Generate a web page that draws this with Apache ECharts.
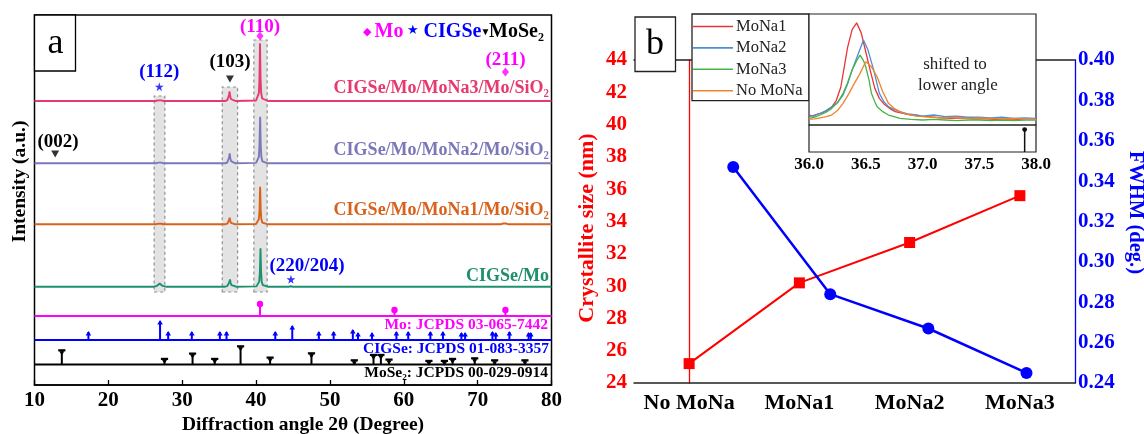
<!DOCTYPE html>
<html>
<head>
<meta charset="utf-8">
<script src="https://cdn.jsdelivr.net/npm/echarts@6/dist/echarts.min.js"></script>
<style>
  html, body { margin: 0; padding: 0; background: #fff; }
  #c { width: 1144px; height: 434px; }
</style>
</head>
<body>
<div id="c"></div>
<script>
// ---------- Panel a: XRD patterns (2θ in degrees, intensity in arbitrary units above each baseline) ----------
const twoThetaTicks = [10, 20, 30, 40, 50, 60, 70, 80];

const xrdMoNa3 = [
  [10, 0], [26.4, 0], [26.75, 0.6], [26.95, 1.2], [27.15, 0.6], [27.5, 0],
  [35.8, 0], [36.1, 0.8], [36.24, 2.4], [36.34, 6], [36.41, 9.5], [36.49, 5], [36.59, 2], [36.8, 0.6], [37.2, 0],
  [40.0, 0.5], [40.25, 2.5], [40.38, 8], [40.46, 22], [40.53, 57.7], [40.61, 22], [40.69, 8], [40.83, 2.5], [41.1, 0.5], [41.6, 0],
  [80, 0]
];
const xrdMoNa2 = [
  [10, 0], [26.4, 0], [26.75, 0.7], [26.95, 1.5], [27.15, 0.7], [27.5, 0],
  [35.8, 0], [36.1, 0.8], [36.25, 2.6], [36.36, 6.3], [36.43, 10], [36.51, 5.2], [36.61, 2.1], [36.8, 0.6], [37.2, 0],
  [40.0, 0.4], [40.25, 2], [40.38, 6.5], [40.46, 18], [40.55, 46.6], [40.63, 18], [40.71, 6.5], [40.85, 2], [41.1, 0.4], [41.6, 0],
  [80, 0]
];
const xrdMoNa1 = [
  [10, 0], [26.4, 0], [26.75, 0.5], [26.95, 1], [27.15, 0.5], [27.5, 0],
  [35.8, 0], [36.1, 0.6], [36.26, 1.8], [36.36, 4.3], [36.43, 6.6], [36.5, 3.6], [36.6, 1.5], [36.8, 0.5], [37.2, 0],
  [40.0, 0.3], [40.25, 1.6], [40.38, 5.2], [40.47, 14.5], [40.55, 37.6], [40.63, 14.5], [40.71, 5.2], [40.85, 1.6], [41.1, 0.3], [41.6, 0],
  [73.1, 0], [73.45, 0.8], [73.65, 1.3], [73.85, 0.8], [74.2, 0], [80, 0]
];
const xrdCIGSeMo = [
  [10, 0], [26.2, 0], [26.55, 0.8], [26.8, 2.4], [26.95, 3.3], [27.1, 2.4], [27.35, 0.8], [27.8, 0],
  [35.8, 0], [36.1, 0.6], [36.28, 2], [36.4, 5], [36.47, 7.3], [36.55, 4], [36.66, 1.6], [36.85, 0.5], [37.3, 0],
  [40.05, 0.3], [40.3, 1.6], [40.43, 5.3], [40.52, 15], [40.6, 38.4], [40.68, 15], [40.76, 5.3], [40.9, 1.6], [41.15, 0.3], [41.6, 0],
  [44.4, 0], [44.7, 0.5], [45.0, 0], [80, 0]
];

// reference stick patterns: [2θ, relative intensity]
const refMo = [[40.53, 12], [58.74, 6], [73.76, 6]];
const refCIGSe = [
  [17.3, 8], [27.0, 19], [28.1, 8], [31.3, 8], [35.1, 8], [36.0, 8], [42.6, 8], [44.9, 14], [48.5, 8],
  [50.5, 8], [53.1, 10], [53.8, 7], [55.7, 7], [59.0, 8], [60.6, 8], [63.6, 8], [65.3, 8], [67.8, 7],
  [68.3, 7], [72.0, 8], [72.45, 7], [74.3, 8], [76.9, 7], [77.2, 7]
];
const refMoSe2 = [
  [13.7, 14.3], [27.6, 5.7], [31.4, 11], [34.4, 5.7], [37.9, 18.3], [41.9, 7], [47.5, 11.3], [53.3, 4.3],
  [55.9, 9.7], [56.9, 9.7], [58.0, 5], [63.4, 3.7], [65.5, 3.7], [66.6, 5.7], [69.6, 6.3], [72.3, 4.3], [76.4, 4.3]
];

// ---------- Panel b: crystallite size and FWHM ----------
const samples = ['No MoNa', 'MoNa1', 'MoNa2', 'MoNa3'];
const crystalliteSize = [25.2, 30.2, 32.7, 35.6];
const fwhmPosition = [0.4, 1.28, 2.17, 3.06];
const fwhm = [0.347, 0.284, 0.267, 0.245];
const sizeTicks = [24, 44, 2];
const fwhmTicks = [0.24, 0.40, 0.02];

// inset: MoSe2 (103) region, normalised counts
const insetMoNa1 = [
  [36.0, 9], [36.04, 8], [36.08, 10], [36.12, 11], [36.16, 13], [36.2, 16], [36.24, 22], [36.28, 34], [36.31, 52],
  [36.34, 70], [36.38, 86], [36.42, 92], [36.46, 83], [36.5, 66], [36.54, 49], [36.58, 33], [36.62, 24], [36.66, 19],
  [36.71, 15], [36.76, 12], [36.83, 10.5], [36.9, 9], [36.97, 8], [37.05, 7.5], [37.15, 6.5], [37.25, 6], [37.35, 6.5],
  [37.45, 5.5], [37.55, 5.5], [37.65, 5], [37.75, 5.5], [37.85, 5], [37.95, 5], [38.0, 5]
];
const insetMoNa2 = [
  [36.0, 7.5], [36.05, 9], [36.1, 10.5], [36.15, 13], [36.2, 16.5], [36.25, 20], [36.3, 27], [36.34, 37], [36.38, 49.5],
  [36.43, 63], [36.48, 76.6], [36.52, 67.5], [36.57, 49.5], [36.62, 28.5], [36.66, 21], [36.7, 16.5], [36.75, 14],
  [36.8, 12], [36.87, 10], [36.95, 9], [37.0, 8], [37.1, 9], [37.2, 7.5], [37.3, 8], [37.4, 7], [37.5, 7], [37.6, 6.5],
  [37.7, 7], [37.8, 6], [37.9, 6.5], [38.0, 6]
];
const insetMoNa3 = [
  [36.0, 6], [36.05, 7], [36.1, 9], [36.15, 11.5], [36.2, 15], [36.25, 20], [36.3, 28.5], [36.34, 38], [36.38, 49.5],
  [36.42, 58], [36.45, 63], [36.48, 58], [36.5, 52.5], [36.53, 40], [36.55, 28.5], [36.58, 21], [36.6, 16.5],
  [36.65, 12], [36.7, 9], [36.75, 7.5], [36.8, 6], [36.9, 5], [37.0, 4.5], [37.1, 5], [37.2, 4.5], [37.3, 4],
  [37.4, 4.5], [37.5, 4.5], [37.6, 4], [37.7, 4.5], [37.8, 4], [37.9, 4.5], [38.0, 4.5]
];
const insetNoMoNa = [
  [36.0, 5], [36.05, 5.5], [36.1, 6.5], [36.15, 7.5], [36.2, 9], [36.25, 13], [36.3, 19.5], [36.35, 28], [36.4, 37.5],
  [36.45, 46.5], [36.5, 57], [36.55, 52.5], [36.6, 43.5], [36.65, 30], [36.7, 19.5], [36.75, 15], [36.8, 12],
  [36.85, 10], [36.9, 9], [36.95, 8], [37.0, 7.5], [37.1, 7], [37.2, 6.5], [37.3, 7], [37.4, 6], [37.5, 6.5],
  [37.6, 6], [37.7, 5.5], [37.8, 6], [37.9, 5], [38.0, 5]
];
const insetTicks = [36.0, 38.0, 0.5];

// ---------- drawing ----------
const FONT = '"Liberation Serif", "Times New Roman", serif';
const bold = s => 'bold ' + s + 'px ' + FONT;
const reg = s => s + 'px ' + FONT;
const labelFont = (size, weight, color) => ({ fontSize: size, fontWeight: weight, fontFamily: FONT, color: color });

const MAGENTA = '#ff00ff', BLUE = '#0000ff', RED = '#ff0000';

function text(x, y, str, font, fill, align, rotation) {
  return {
    type: 'text', x: x, y: y, rotation: rotation || 0, z: 120, silent: true,
    style: { text: str, font: font, fill: fill, align: align || 'center', verticalAlign: 'middle' }
  };
}
function box(x, y, w, h, stroke) {
  return {
    type: 'rect', z: 50, silent: true,
    shape: { x: x, y: y, width: w, height: h },
    style: { fill: '#fff', stroke: stroke || null, lineWidth: stroke ? 1.3 : 0 }
  };
}

// renders a stick at [2θ, h] on top of a baseline, with a small cap shape
function stickRenderer(base, color, cap, width) {
  return function (params, api) {
    const x = api.value(0), h = api.value(1);
    const p0 = api.coord([x, base]);
    const p1 = api.coord([x, base + h]);
    const kids = [{
      type: 'line',
      shape: { x1: p0[0], y1: p0[1], x2: p1[0], y2: p1[1] },
      style: { stroke: color, lineWidth: width || 2 }
    }];
    if (cap === 'dot') {
      kids.push({ type: 'circle', shape: { cx: p1[0], cy: p1[1], r: 3.2 }, style: { fill: color } });
    } else if (cap === 'small-dot') {
      kids.push({ type: 'circle', shape: { cx: p1[0], cy: p1[1], r: 2.4 }, style: { fill: color } });
    } else if (cap === 'arrow') {
      kids.push({ type: 'polygon', shape: { points: [[p1[0] - 2.8, p1[1] + 3.5], [p1[0] + 2.8, p1[1] + 3.5], [p1[0], p1[1] - 1]] }, style: { fill: color } });
    } else if (cap === 'tee') {
      kids.push({ type: 'rect', shape: { x: p1[0] - 3.6, y: p1[1] - 1, width: 7.2, height: 2.2 }, style: { fill: color } });
      kids.push({ type: 'polygon', shape: { points: [[p1[0] - 2.6, p1[1] + 1], [p1[0] + 2.6, p1[1] + 1], [p1[0], p1[1] + 5]] }, style: { fill: color } });
    }
    return { type: 'group', children: kids };
  };
}

const traces = [
  { name: 'CIGSe/Mo/MoNa3/Mo/SiO₂', data: xrdMoNa3, color: '#e6396f', base: 284 },
  { name: 'CIGSe/Mo/MoNa2/Mo/SiO₂', data: xrdMoNa2, color: '#7b78ba', base: 221.7 },
  { name: 'CIGSe/Mo/MoNa1/Mo/SiO₂', data: xrdMoNa1, color: '#d8621c', base: 160.7 },
  { name: 'CIGSe/Mo', data: xrdCIGSeMo, color: '#1b9170', base: 98.3 }
];
const refs = [
  { name: 'Mo: JCPDS 03-065-7442', data: refMo, color: MAGENTA, base: 69, cap: 'dot' },
  { name: 'CIGSe: JCPDS 01-083-3357', data: refCIGSe, color: BLUE, base: 45, cap: 'arrow' },
  { name: 'MoSe₂: JCPDS 00-029-0914', data: refMoSe2, color: '#000', base: 20.5, cap: 'tee' }
];

const series = [];

// shaded 2θ windows around the (112), (103) and (110) reflections
series.push({
  type: 'line', xAxisIndex: 0, yAxisIndex: 0, data: [], z: 1, silent: true,
  markArea: {
    silent: true,
    itemStyle: { color: '#e3e3e3', borderColor: '#909090', borderWidth: 1.2, borderType: [3, 3] },
    data: [
      [{ xAxis: 26.2, yAxis: 93 }, { xAxis: 27.65, yAxis: 289 }],
      [{ xAxis: 35.42, yAxis: 93 }, { xAxis: 37.5, yAxis: 298 }],
      [{ xAxis: 39.7, yAxis: 93 }, { xAxis: 41.5, yAxis: 345 }]
    ]
  }
});

traces.forEach(t => {
  series.push({
    name: t.name, type: 'line', xAxisIndex: 0, yAxisIndex: 0, z: 3, symbol: 'none', silent: true,
    lineStyle: { color: t.color, width: 1.9 },
    data: t.data.map(p => [p[0], p[1] + t.base])
  });
});

refs.forEach(r => {
  series.push({
    name: r.name + ' baseline', type: 'line', xAxisIndex: 0, yAxisIndex: 0, z: 3, symbol: 'none', silent: true,
    lineStyle: { color: r.color, width: 2 },
    data: [[10, r.base], [80, r.base]]
  });
  series.push({
    name: r.name, type: 'custom', xAxisIndex: 0, yAxisIndex: 0, z: 4, silent: true, clip: false,
    encode: { x: 0, y: 1 },
    renderItem: stickRenderer(r.base, r.color, r.cap, 2),
    data: r.data
  });
});

// phase markers above the indexed reflections
const STAR = 'path://M50,0 L61,35 L98,35 L68,57 L79,91 L50,70 L21,91 L32,57 L2,35 L39,35 Z';
series.push({
  type: 'scatter', xAxisIndex: 0, yAxisIndex: 0, z: 5, silent: true,
  symbol: 'diamond', symbolSize: [7, 9], itemStyle: { color: MAGENTA },
  data: [[40.53, 349], [73.76, 313]]
});
series.push({
  type: 'scatter', xAxisIndex: 0, yAxisIndex: 0, z: 5, silent: true,
  symbol: STAR, symbolSize: 9, itemStyle: { color: BLUE },
  data: [[26.9, 298.3], [44.72, 105.7]]
});
series.push({
  type: 'scatter', xAxisIndex: 0, yAxisIndex: 0, z: 5, silent: true,
  symbol: 'triangle', symbolRotate: 180, symbolSize: [8, 7], itemStyle: { color: '#000' },
  data: [[36.46, 306], [12.8, 231]]
});

// panel b main curves
series.push({
  name: 'Crystallite size', type: 'line', xAxisIndex: 1, yAxisIndex: 1, z: 5, silent: true,
  symbol: 'rect', symbolSize: 11, lineStyle: { color: RED, width: 2 }, itemStyle: { color: RED },
  data: crystalliteSize
});
series.push({
  name: 'FWHM', type: 'line', xAxisIndex: 2, yAxisIndex: 2, z: 6, silent: true,
  symbol: 'circle', symbolSize: 12, lineStyle: { color: BLUE, width: 2.5 }, itemStyle: { color: BLUE },
  data: fwhmPosition.map((p, i) => [p, fwhm[i]])
});

// inset spectra
const insetSeries = [
  { name: 'MoNa1', data: insetMoNa1, color: '#ea3438' },
  { name: 'MoNa2', data: insetMoNa2, color: '#4d8fd6' },
  { name: 'MoNa3', data: insetMoNa3, color: '#45b548' },
  { name: 'No MoNa', data: insetNoMoNa, color: '#f0832d' }
];
const dashed = { color: '#111', width: 1.5, type: [5, 4] };
insetSeries.forEach((s, i) => {
  const item = {
    name: s.name, type: 'line', xAxisIndex: 4, yAxisIndex: 3, z: 62, symbol: 'none', silent: true,
    lineStyle: { color: s.color, width: 1.3 }, itemStyle: { color: s.color },
    data: s.data
  };
  if (i === 0) {
    item.markArea = { silent: true, itemStyle: { color: '#d6d6d6' }, data: [[{ xAxis: 36.43 }, { xAxis: 36.57 }]] };
    item.markLine = {
      silent: true, symbol: 'none', label: { show: false }, lineStyle: dashed,
      data: [{ xAxis: 36.43 }, { xAxis: 36.57 }, { xAxis: 37.89 }]
    };
  }
  if (i === 1) {
    item.markLine = {
      silent: true, symbol: ['none', 'arrow'], symbolSize: [10, 12], label: { show: false },
      lineStyle: { color: '#111', width: 1.5, type: 'solid' },
      data: [[{ coord: [37.8, 65.5] }, { coord: [36.61, 65.5] }]]
    };
  }
  series.push(item);
});
// lower strip of the inset: MoSe2 reference line in this window
series.push({
  type: 'custom', xAxisIndex: 5, yAxisIndex: 4, z: 62, silent: true, clip: false,
  encode: { x: 0, y: 1 },
  renderItem: stickRenderer(0, '#111', 'small-dot', 1.5),
  data: refMoSe2.filter(p => p[0] >= insetTicks[0] && p[0] <= insetTicks[1]),
  markArea: { silent: true, itemStyle: { color: '#d6d6d6' }, data: [[{ xAxis: 36.43 }, { xAxis: 36.57 }]] },
  markLine: { silent: true, symbol: 'none', label: { show: false }, lineStyle: dashed, data: [{ xAxis: 36.43 }, { xAxis: 36.57 }] }
});

const option = {
  animation: false,
  backgroundColor: '#fff',
  textStyle: { fontFamily: FONT },
  grid: [
    { left: 34.5, top: 15, width: 517, height: 370, show: true, borderColor: '#000', borderWidth: 1.5 },
    { left: 634, top: 60, width: 441, height: 323 },
    { left: 809, top: 14, width: 227, height: 111, show: true, borderColor: '#222', borderWidth: 1.2, backgroundColor: 'transparent', z: 60 },
    { left: 809, top: 125, width: 227, height: 27, show: true, borderColor: '#222', borderWidth: 1.2, backgroundColor: 'transparent', z: 60 }
  ],
  xAxis: [
    {
      gridIndex: 0, type: 'value', min: twoThetaTicks[0], max: twoThetaTicks[twoThetaTicks.length - 1],
      interval: twoThetaTicks[1] - twoThetaTicks[0],
      axisLine: { lineStyle: { color: '#000', width: 1.5 } },
      axisTick: { inside: true, length: 5, lineStyle: { color: '#000', width: 1.3 } },
      axisLabel: Object.assign(labelFont(21, 'bold', '#000'), { margin: 5 }),
      splitLine: { show: false }
    },
    {
      gridIndex: 1, type: 'category', data: samples, boundaryGap: true,
      axisLine: { lineStyle: { color: '#222', width: 1.5 } },
      axisTick: { alignWithLabel: true, interval: 0, length: 5, lineStyle: { color: '#222', width: 1.3 } },
      axisLabel: Object.assign(labelFont(22, 'bold', '#000'), { margin: 9, interval: 0, hideOverlap: false })
    },
    { gridIndex: 1, type: 'value', min: -0.5, max: samples.length - 0.5, show: false },
    {
      gridIndex: 1, type: 'category', data: samples, position: 'top', z: 0,
      axisLine: { lineStyle: { color: '#222', width: 1.5 } },
      axisTick: { show: false }, axisLabel: { show: false }
    },
    {
      gridIndex: 2, type: 'value', min: insetTicks[0], max: insetTicks[1], interval: insetTicks[2],
      axisLine: { show: false }, axisTick: { show: false }, axisLabel: { show: false }, splitLine: { show: false }
    },
    {
      gridIndex: 3, type: 'value', min: insetTicks[0], max: insetTicks[1], interval: insetTicks[2], z: 60,
      axisLine: { show: false }, axisTick: { show: false }, splitLine: { show: false },
      axisLabel: Object.assign(labelFont(17, 'bold', '#000'), { margin: 4, formatter: v => v.toFixed(1) })
    }
  ],
  yAxis: [
    { gridIndex: 0, type: 'value', min: 0, max: 370, show: false },
    {
      gridIndex: 1, type: 'value', position: 'left', min: sizeTicks[0], max: sizeTicks[1], interval: sizeTicks[2],
      axisLine: { show: true, lineStyle: { color: RED, width: 1.3 } },
      axisTick: { show: false }, splitLine: { show: false },
      axisLabel: Object.assign(labelFont(21, 'bold', RED), { margin: 7 })
    },
    {
      gridIndex: 1, type: 'value', position: 'right', min: fwhmTicks[0], max: fwhmTicks[1], interval: fwhmTicks[2],
      axisLine: { show: true, lineStyle: { color: BLUE, width: 1.3 } },
      axisTick: { show: false }, splitLine: { show: false },
      axisLabel: Object.assign(labelFont(21, 'bold', BLUE), { margin: 3, formatter: v => v.toFixed(2) })
    },
    { gridIndex: 2, type: 'value', min: 0, max: 100, show: false },
    { gridIndex: 3, type: 'value', min: 0, max: 22, show: false }
  ],
  legend: {
    data: insetSeries.map(s => s.name),
    orient: 'vertical', left: 693, top: 18, z: 70,
    icon: 'rect', itemWidth: 40, itemHeight: 1.6, itemGap: 4.4, padding: 0,
    selectedMode: false,
    textStyle: { fontSize: 16.5, fontFamily: FONT, color: '#222', lineHeight: 17, padding: [0, 0, 0, -2] }
  },
  graphic: [
    // panel a frame labels
    box(34.5, 15, 41, 56, '#000'),
    text(55.5, 44, 'a', reg(36), '#000'),
    text(260, 27.5, '(110)', bold(19), MAGENTA),
    text(505.5, 60.5, '(211)', bold(19), MAGENTA),
    text(159.3, 72, '(112)', bold(19), BLUE),
    text(230, 62, '(103)', bold(19), '#000'),
    text(58, 142, '(002)', bold(19), '#000'),
    text(307, 266, '(220/204)', bold(19), BLUE),
    text(366.5, 32, '◆', reg(11), MAGENTA),
    text(374.5, 32, 'Mo', bold(20), MAGENTA, 'left'),
    text(412.7, 31, '★', reg(13), BLUE),
    text(423.6, 32, 'CIGSe', bold(20), BLUE, 'left'),
    text(485.5, 32, '▼', reg(10), '#000'),
    text(489, 32, 'MoSe₂', bold(20), '#000', 'left'),
    text(549, 88, traces[0].name, bold(18), traces[0].color, 'right'),
    text(549, 150, traces[1].name, bold(18), traces[1].color, 'right'),
    text(549, 210, traces[2].name, bold(18), traces[2].color, 'right'),
    text(549, 276, traces[3].name, bold(18), '#1f8f6b', 'right'),
    text(548, 325, refs[0].name, bold(15.5), MAGENTA, 'right'),
    text(549, 349, refs[1].name, bold(15.5), BLUE, 'right'),
    text(548, 373, refs[2].name, bold(15.5), '#000', 'right'),
    text(20, 181.5, 'Intensity (a.u.)', bold(19.5), '#000', 'center', Math.PI / 2),
    text(303, 425, 'Diffraction angle 2θ (Degree)', bold(19.5), '#000'),
    // panel b
    box(635, 17, 40.5, 54.5, '#222'),
    text(655, 45, 'b', reg(36), '#000'),
    box(692, 14, 117, 86.7, '#222'),
    box(809, 14, 227, 138),
    text(955, 65, 'shifted to', reg(17), '#222'),
    text(958, 86, 'lower angle', reg(17), '#222'),
    text(587, 228, 'Crystallite size (nm)', bold(22), RED, 'center', Math.PI / 2),
    text(1135, 212.5, 'FWHM (deg.)', bold(20.5), BLUE, 'center', -Math.PI / 2)
  ],
  series: series
};

const chart = echarts.init(document.getElementById('c'), null, { renderer: 'canvas', width: 1144, height: 434 });
chart.setOption(option);
</script>
</body>
</html>
